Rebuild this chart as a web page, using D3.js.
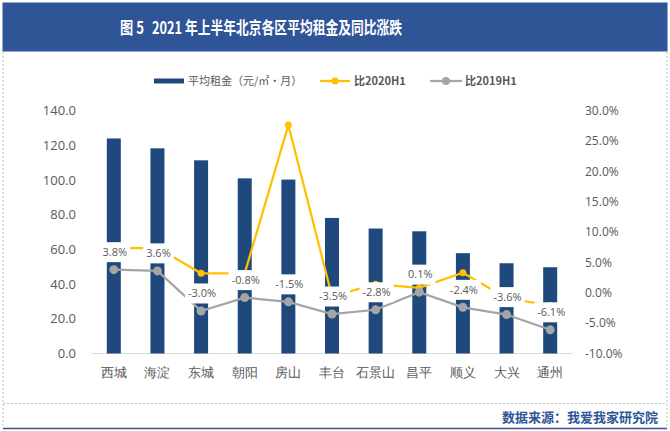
<!DOCTYPE html>
<html><head><meta charset="utf-8">
<script src="https://cdn.jsdelivr.net/npm/d3@7"></script>
<style>
html,body{margin:0;padding:0;background:#fff;}
svg{display:block;font-family:"Noto Sans CJK SC","Microsoft YaHei",sans-serif;}
</style></head>
<body><svg id="c" width="670" height="431"></svg>
<script>
const categories = ["西城","海淀","东城","朝阳","房山","丰台","石景山","昌平","顺义","大兴","通州"];
const rent = [123.9,118.2,111.3,100.9,100.2,78.1,72.0,70.4,57.8,52.0,49.7];
const vs2020 = [7.3,7.4,3.2,3.2,27.6,-0.6,1.4,0.8,3.3,-0.9,-2.1];
const vs2019 = [3.8,3.6,-3.0,-0.8,-1.5,-3.5,-2.8,0.1,-2.4,-3.6,-6.1];
const leftTicks = [0,20,40,60,80,100,120,140];
const rightTicks = [-10,-5,0,5,10,15,20,25,30];
const legendLabels = ["平均租金（元/㎡•月）","比2020H1","比2019H1"];
const titleParts = ["图 5","2021 年上半年北京各区平均租金及同比涨跌"];
const sourceText = "数据来源：我爱我家研究院";

const svg = d3.select("#c");
const W=670,H=431;
const C = {bar:"#1F497D", yellow:"#FFC000", gray:"#A5A5A5", text:"#595959", title:"#2F5597"};

svg.append("rect").attr("width",W).attr("height",H).attr("fill","#fff");
// frame
svg.append("line").attr("x1",3).attr("x2",3).attr("y1",52).attr("y2",428).attr("stroke","#BFBFBF").attr("stroke-dasharray","2,2");
svg.append("line").attr("x1",667).attr("x2",667).attr("y1",52).attr("y2",428).attr("stroke","#BFBFBF").attr("stroke-dasharray","2,2");
svg.append("line").attr("x1",3).attr("x2",667).attr("y1",403.5).attr("y2",403.5).attr("stroke","#BFBFBF").attr("stroke-dasharray","2,2");
svg.append("line").attr("x1",3).attr("x2",667).attr("y1",428.5).attr("y2",428.5).attr("stroke","#2F5597").attr("stroke-width",1.5);
// title band
svg.append("rect").attr("x",2.5).attr("y",2.5).attr("width",665).attr("height",49).attr("fill",C.title)
  .attr("stroke","#8EA9DB").attr("stroke-dasharray","2,2");
svg.append("text").attr("x",120).attr("y",34).attr("fill","#fff").attr("font-size",17).attr("font-weight","bold")
  .attr("textLength",24).attr("lengthAdjust","spacingAndGlyphs").text(titleParts[0]);
svg.append("text").attr("x",152).attr("y",34).attr("fill","#fff").attr("font-size",17).attr("font-weight","bold")
  .attr("textLength",250).attr("lengthAdjust","spacingAndGlyphs").text(titleParts[1]);
svg.append("text").attr("x",658).attr("y",422).attr("text-anchor","end").attr("fill","#2F5597").attr("font-size",13).attr("font-weight","bold").text(sourceText);

const x = d3.scaleBand().domain(categories).range([92,572]).padding(0);
const yL = d3.scaleLinear().domain([0,140]).range([353.5,110.5]);
const yR = d3.scaleLinear().domain([-10,30]).range([353.5,110.5]);
const cx = d => x(d)+x.bandwidth()/2;
const bw = 14;

// axes
const ga = svg.append("g").attr("transform","translate(76,0)")
  .call(d3.axisLeft(yL).tickValues(leftTicks).tickSize(0).tickPadding(0).tickFormat(d=>d.toFixed(1)));
ga.select(".domain").remove();
ga.selectAll("text").attr("fill",C.text).attr("font-size",13).attr("font-family","'Open Sans',sans-serif");
const gr = svg.append("g").attr("transform","translate(585,0)")
  .call(d3.axisRight(yR).tickValues(rightTicks).tickSize(0).tickPadding(0).tickFormat(d=>d.toFixed(1)+"%"));
gr.select(".domain").remove();
gr.selectAll("text").attr("fill",C.text).attr("font-size",12).attr("font-family","'Open Sans',sans-serif");
const gb = svg.append("g").attr("transform","translate(0,353.5)")
  .call(d3.axisBottom(x).tickSize(0).tickPadding(14));
gb.select(".domain").remove();
gb.selectAll("text").attr("fill",C.text).attr("font-size",13);
svg.append("line").attr("x1",92).attr("x2",572).attr("y1",353.5).attr("y2",353.5).attr("stroke","#D9D9D9");

// bars
svg.append("g").selectAll("rect").data(categories).join("rect")
  .attr("x",d=>cx(d)-bw/2).attr("width",bw)
  .attr("y",(d,i)=>yL(rent[i])).attr("height",(d,i)=>yL(0)-yL(rent[i])).attr("fill",C.bar);

// lines
const line = arr => d3.line().x((d,i)=>cx(categories[i])).y(d=>yR(d))(arr);
svg.append("path").attr("d",line(vs2020)).attr("fill","none").attr("stroke",C.yellow).attr("stroke-width",2.25);
svg.append("path").attr("d",line(vs2019)).attr("fill","none").attr("stroke",C.gray).attr("stroke-width",2.25);
svg.append("g").selectAll("circle").data(vs2020).join("circle")
  .attr("cx",(d,i)=>cx(categories[i])).attr("cy",d=>yR(d)).attr("r",3.5).attr("fill",C.yellow);
svg.append("g").selectAll("circle").data(vs2019).join("circle")
  .attr("cx",(d,i)=>cx(categories[i])).attr("cy",d=>yR(d)).attr("r",4.5).attr("fill",C.gray);

// data labels
const lg = svg.append("g");
vs2019.forEach((v,i)=>{
  const g = lg.append("g");
  const t = g.append("text").attr("x",cx(categories[i])+1).attr("y",yR(v)-17.5).attr("dy","0.35em")
    .attr("text-anchor","middle").attr("fill",C.text).attr("font-size",11).attr("font-family","'Open Sans',sans-serif")
    .text(v.toFixed(1)+"%");
  const b = t.node().getBBox();
  g.insert("rect","text").attr("x",b.x-3).attr("y",yR(v)-27.5).attr("width",b.width+6).attr("height",20).attr("fill","#fff");
});

// legend
const leg = svg.append("g").attr("font-size",11).attr("fill",C.text);
leg.append("rect").attr("x",154).attr("y",78.5).attr("width",30).attr("height",5).attr("fill",C.bar);
leg.append("text").attr("x",188).attr("y",81).attr("dy","0.35em").attr("fill",C.text).text(legendLabels[0]);
leg.append("line").attr("x1",320).attr("x2",350).attr("y1",81).attr("y2",81).attr("stroke",C.yellow).attr("stroke-width",2.25);
leg.append("circle").attr("cx",335).attr("cy",81).attr("r",3.5).attr("fill",C.yellow);
leg.append("text").attr("x",354).attr("y",81).attr("dy","0.35em").attr("fill",C.text).attr("font-weight","bold").text(legendLabels[1]);
leg.append("line").attr("x1",430).attr("x2",462).attr("y1",81).attr("y2",81).attr("stroke",C.gray).attr("stroke-width",2.25);
leg.append("circle").attr("cx",446).attr("cy",81).attr("r",4).attr("fill",C.gray);
leg.append("text").attr("x",465).attr("y",81).attr("dy","0.35em").attr("fill",C.text).attr("font-weight","bold").text(legendLabels[2]);
</script></body></html>
